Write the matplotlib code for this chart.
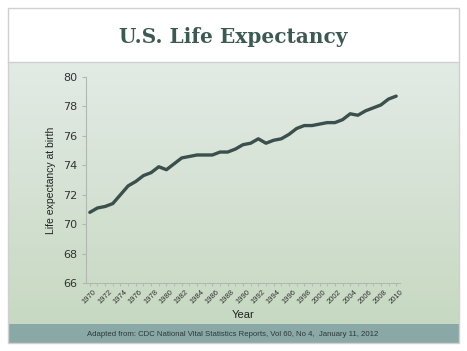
import matplotlib.pyplot as plt
from matplotlib.patches import Rectangle
import numpy as np

years = list(range(1970, 2011))
life_exp = [70.8, 71.1, 71.2, 71.4, 72.0, 72.6, 72.9, 73.3, 73.5, 73.9,
            73.7, 74.1, 74.5, 74.6, 74.7, 74.7, 74.7, 74.9, 74.9, 75.1,
            75.4, 75.5, 75.8, 75.5, 75.7, 75.8, 76.1, 76.5, 76.7, 76.7,
            76.8, 76.9, 76.9, 77.1, 77.5, 77.4, 77.7, 77.9, 78.1, 78.5,
            78.7]
tick_years = list(range(1970, 2011, 2))

W, H = 467, 351
fig = plt.figure(figsize=(W / 100, H / 100), dpi=100)
fig.patch.set_facecolor('white')

# slide background in pixel coordinates
bg = fig.add_axes([0, 0, 1, 1])
bg.set_xlim(0, W)
bg.set_ylim(H, 0)
bg.axis('off')
grad = np.linspace(0, 1, 256).reshape(-1, 1)
top = np.array([0.89, 0.92, 0.90])
bot = np.array([0.78, 0.85, 0.76])
img = top + (bot - top) * grad[:, :, None]
bg.imshow(img, extent=[8, 459, 324, 62], aspect='auto', zorder=1)
bg.add_patch(Rectangle((8, 8), 451, 54, facecolor='white', edgecolor='none', zorder=1))
bg.plot([8, 459], [62, 62], color='#d0d0d0', lw=1, zorder=2)
bg.add_patch(Rectangle((8, 324), 451, 19, facecolor='#8aa8a6', edgecolor='none', zorder=2))
bg.add_patch(Rectangle((8, 8), 451, 335, facecolor='none', edgecolor='#d0d0d0', lw=1, zorder=3))
bg.text(233, 37, 'U.S. Life Expectancy', ha='center', va='center',
        fontsize=14.5, fontweight='bold', family='DejaVu Serif', color='#3d5a52', zorder=4)
bg.text(233, 334, 'Adapted from: CDC National Vital Statistics Reports, Vol 60, No 4,  January 11, 2012',
        ha='center', va='center', fontsize=5.6, family='Liberation Sans', color='#2a3a38', zorder=4)

ax = fig.add_axes([86 / W, 1 - 283 / H, 314 / W, 206 / H])
ax.patch.set_alpha(0)
ax.plot(years, life_exp, color='#3b4f4c', lw=2.4, solid_capstyle='round')
ax.set_xlim(1969.5, 2010.5)
ax.set_ylim(66, 80)
ax.set_yticks(range(66, 81, 2))
ax.set_xticks(tick_years)
ax.set_xticks(years, minor=True)
ax.set_xticklabels([str(y) for y in tick_years], rotation=45, fontsize=5.5,
                   family='Liberation Sans', color='#333333')
ax.tick_params(axis='y', labelsize=8, colors='#333333', length=3, color='#b0b8b0')
ax.tick_params(axis='x', which='both', length=2, color='#b0b8b0', pad=2)
for s in ['top', 'right']:
    ax.spines[s].set_visible(False)
for s in ['left', 'bottom']:
    ax.spines[s].set_color('#b0b8b0')
ax.set_xlabel('Year', fontsize=8, family='Liberation Sans', color='#222222', labelpad=3)
ax.set_ylabel('Life expectancy at birth', fontsize=7.5, family='Liberation Sans',
              color='#222222', labelpad=5)

fig.savefig('out.png', dpi=100)
